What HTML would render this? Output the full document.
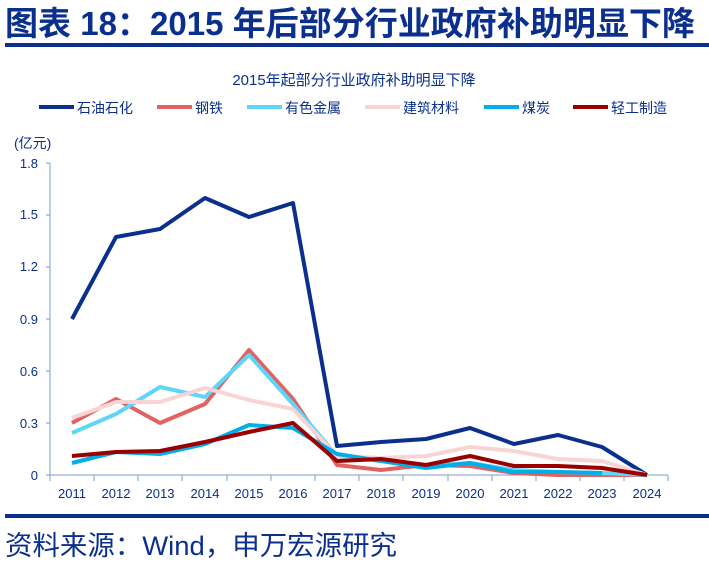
<!DOCTYPE html>
<html><head><meta charset="utf-8"><style>
body{margin:0;width:709px;height:564px;background:#fff;overflow:hidden;font-family:"Liberation Sans","Noto Sans CJK SC",sans-serif;}
</style></head><body>
<svg width="709" height="564" xmlns="http://www.w3.org/2000/svg" font-family="Liberation Sans, Noto Sans CJK SC, sans-serif">
<text x="5" y="35" font-size="33" font-weight="bold" fill="#0a2f8c" textLength="690" lengthAdjust="spacingAndGlyphs">图表 18：2015 年后部分行业政府补助明显下降</text>
<rect x="5" y="43" width="704" height="4" fill="#0a2f8c"/>
<text x="354" y="85" font-size="15" fill="#0a2f8c" text-anchor="middle">2015年起部分行业政府补助明显下降</text>
<g font-size="14" fill="#0a2f8c">
<rect x="39" y="105" width="35" height="4" fill="#0a2f8c"/><text x="77" y="113">石油石化</text>
<rect x="157" y="105" width="35" height="4" fill="#e06262"/><text x="195" y="113">钢铁</text>
<rect x="247" y="105" width="35" height="4" fill="#5fd6f8"/><text x="285" y="113">有色金属</text>
<rect x="365" y="105" width="35" height="4" fill="#f8d4d4"/><text x="403" y="113">建筑材料</text>
<rect x="484" y="105" width="35" height="4" fill="#00aee8"/><text x="522" y="113">煤炭</text>
<rect x="573" y="105" width="35" height="4" fill="#9a0000"/><text x="611" y="113">轻工制造</text>
<text x="14" y="148">(亿元)</text>
</g>
<g font-size="13" fill="#0a2f8c" text-anchor="end">
<text x="38" y="168">1.8</text><text x="38" y="219">1.5</text><text x="38" y="271">1.2</text><text x="38" y="324">0.9</text><text x="38" y="376">0.6</text><text x="38" y="428">0.3</text><text x="38" y="480">0</text>
</g>
<g stroke="#7f9cc8" stroke-width="1" fill="none">
<path d="M50 163V475H668"/>
<path d="M46 163H50M46 215H50M46 267H50M46 319H50M46 371H50M46 423H50M46 475H50"/>
<path d="M50 475v6M94 475v6M138 475v6M182 475v6M227 475v6M271 475v6M315 475v6M359 475v6M403 475v6M448 475v6M492 475v6M536 475v6M580 475v6M624 475v6M668 475v6"/>
</g>
<g font-size="13" fill="#0a2f8c" text-anchor="middle">
<text x="72" y="498">2011</text><text x="116" y="498">2012</text><text x="160" y="498">2013</text><text x="205" y="498">2014</text><text x="249" y="498">2015</text><text x="293" y="498">2016</text><text x="337" y="498">2017</text><text x="381" y="498">2018</text><text x="426" y="498">2019</text><text x="470" y="498">2020</text><text x="514" y="498">2021</text><text x="558" y="498">2022</text><text x="602" y="498">2023</text><text x="647" y="498">2024</text>
</g>
<g fill="none" stroke-width="4" stroke-linejoin="round">
<polyline stroke="#0a2f8c" points="72,319 116,237 160,229 205,198 249,217 293,203 337,446 381,442 426,439 470,428 514,444 558,435 602,447 647,475"/>
<polyline stroke="#e06262" points="72,423 116,399 160,423 205,404 249,350 293,399 337,465 381,470 426,465 470,466 514,473 558,475 602,475 647,475"/>
<polyline stroke="#5fd6f8" points="72,433 116,414 160,387 205,397 249,355 293,404 337,456 381,461 426,466 470,463 514,470 558,472 602,473 647,475"/>
<polyline stroke="#f8d4d4" points="72,418 116,402 160,402 205,388 249,400 293,409 337,456 381,458 426,456 470,447 514,451 558,459 602,461 647,475"/>
<polyline stroke="#00aee8" points="72,463 116,452 160,454 205,444 249,425 293,428 337,454 381,461 426,468 470,463 514,472 558,472 602,473"/>
<polyline stroke="#9a0000" points="72,456 116,452 160,451 205,442 249,432 293,423 337,461 381,459 426,465 470,456 514,466 558,466 602,468 647,475"/>
</g>
<rect x="5" y="514" width="704" height="4" fill="#0a2f8c"/>
<text x="5" y="555" font-size="27" fill="#0a2f8c" textLength="392" lengthAdjust="spacingAndGlyphs">资料来源：Wind，申万宏源研究</text>
</svg>
</body></html>
